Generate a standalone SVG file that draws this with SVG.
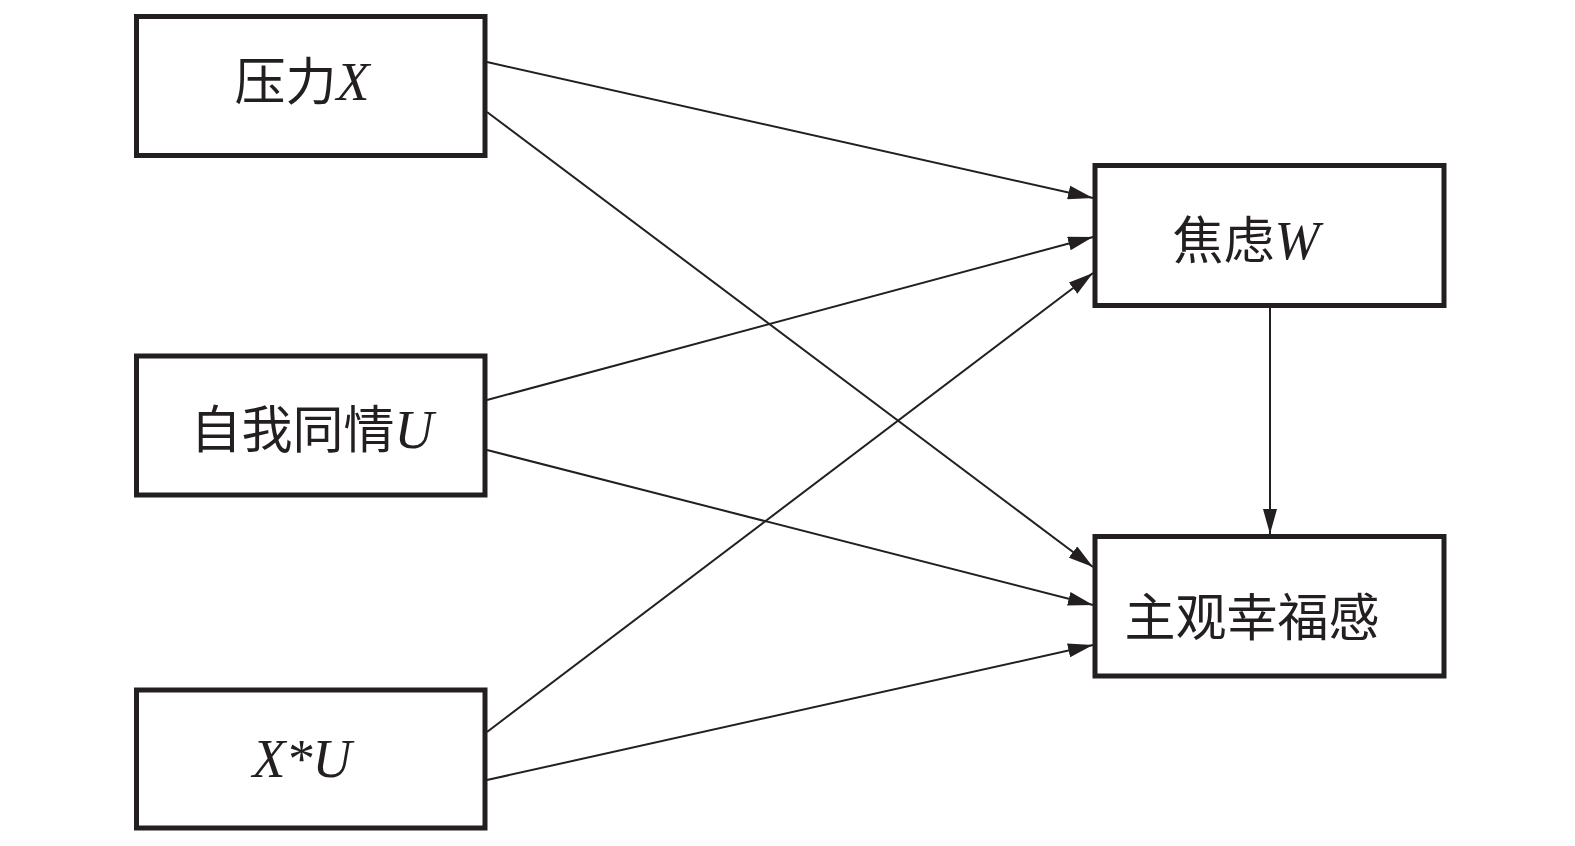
<svg xmlns="http://www.w3.org/2000/svg" width="1575" height="846" viewBox="0 0 1575 846">
<style>
.box{fill:#fff;stroke:#231f20;stroke-width:5}
.t{font-family:"Noto Sans CJK SC","Liberation Serif",serif;font-size:51px;fill:#231f20;text-anchor:middle}
.i{font-family:"Liberation Serif",serif;font-style:italic;font-size:54px}
.c line{stroke:#231f20;stroke-width:2;marker-end:url(#ah)}
</style>
<defs>
<marker id="ah" viewBox="0 0 25 14" refX="25" refY="7" markerWidth="25" markerHeight="14" markerUnits="userSpaceOnUse" orient="auto">
<path d="M0,0 L25,7 L0,14 Z" fill="#231f20"/>
</marker>
</defs>
<rect width="1575" height="846" fill="#fff"/>
<g class="c" id="connectors">
<line x1="487" y1="62" x2="1093" y2="198"/>
<line x1="487" y1="112" x2="1093" y2="567"/>
<line x1="487" y1="400" x2="1093" y2="237"/>
<line x1="487" y1="450" x2="1093" y2="605"/>
<line x1="487" y1="732" x2="1093" y2="273"/>
<line x1="487" y1="780" x2="1093" y2="645"/>
<line x1="1270" y1="308" x2="1270" y2="534"/>
</g>
<g id="n1"><rect class="box" x="136.5" y="16.5" width="348.5" height="139"/><text class="t" x="302" y="100">压力<tspan class="i">X</tspan></text></g>
<g id="n2"><rect class="box" x="136.5" y="356" width="348.5" height="139"/><text class="t" x="312" y="448">自我同情<tspan class="i">U</tspan></text></g>
<g id="n3"><rect class="box" x="136.5" y="690" width="348.5" height="138"/><text class="t" x="302" y="777"><tspan class="i">X</tspan><tspan class="i" font-style="normal">*</tspan><tspan class="i">U</tspan></text></g>
<g id="n4"><rect class="box" x="1095" y="165.5" width="349" height="140"/><text class="t" x="1246" y="259">焦虑<tspan class="i">W</tspan></text></g>
<g id="n5"><rect class="box" x="1095" y="536.5" width="349" height="139.5"/><text class="t" x="1252" y="636">主观幸福感</text></g>
</svg>
